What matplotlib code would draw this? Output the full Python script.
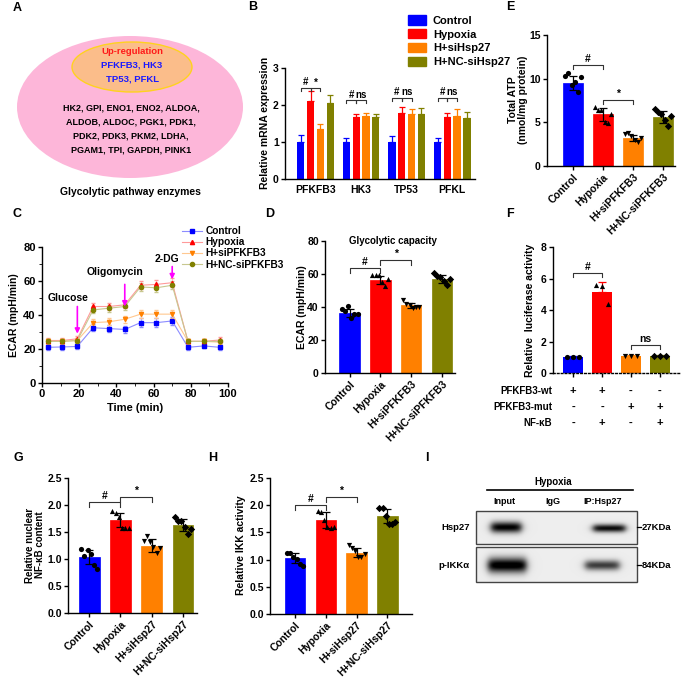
import numpy as np
import matplotlib
matplotlib.use("Agg")
import matplotlib.pyplot as plt
from matplotlib.patches import Ellipse, Rectangle, Patch
from matplotlib.lines import Line2D
from matplotlib.transforms import blended_transform_factory

plt.rcParams['font.family'] = ['Liberation Sans', 'DejaVu Sans']
plt.rcParams['font.weight'] = 'bold'
plt.rcParams['axes.labelweight'] = 'bold'
plt.rcParams['axes.linewidth'] = 1.0
plt.rcParams['xtick.major.width'] = 1.0
plt.rcParams['ytick.major.width'] = 1.0

# ---------------- data ----------------
COLORS = ['#0000ff', '#ff0000', '#ff8000', '#808000']
MARKERS = ['o', '^', 'v', 'D']

# A: gene lists
A_UP = ["PFKFB3, HK3", "TP53, PFKL"]
A_OTHER = ["HK2, GPI, ENO1, ENO2, ALDOA,",
           "ALDOB, ALDOC, PGK1, PDK1,",
           "PDK2, PDK3, PKM2, LDHA,",
           "PGAM1, TPI, GAPDH, PINK1"]

# B: relative mRNA expression
B_GENES = ["PFKFB3", "HK3", "TP53", "PFKL"]
B_GROUPS = ["Control", "Hypoxia", "H+siHsp27", "H+NC-siHsp27"]
B_MEAN = [[1.00, 2.12, 1.36, 2.05],
          [1.00, 1.67, 1.69, 1.67],
          [1.00, 1.78, 1.76, 1.76],
          [1.00, 1.68, 1.69, 1.65]]
B_ERR = [[0.18, 0.25, 0.13, 0.22],
         [0.10, 0.10, 0.10, 0.10],
         [0.15, 0.16, 0.13, 0.15],
         [0.10, 0.10, 0.20, 0.15]]
B_SIG = [(0, 0, 1, 2.46, "#"), (0, 1, 2, 2.46, "*"),
         (1, 0, 1, 2.13, "#"), (1, 1, 2, 2.13, "ns"),
         (2, 0, 1, 2.20, "#"), (2, 1, 2, 2.20, "ns"),
         (3, 0, 1, 2.20, "#"), (3, 1, 2, 2.20, "ns")]

# C: ECAR time course
C_GROUPS = ["Control", "Hypoxia", "H+siPFKFB3", "H+NC-siPFKFB3"]
C_TIME = [3, 11, 19, 27.5, 36, 44.5, 53, 61.5, 70, 78.5, 87, 95.5]
C_CONTROL = [21.0, 21.2, 21.5, 32.5, 32.0, 31.5, 35.5, 35.5, 36.5, 21.0, 21.8, 21.0]
C_HYPOXIA = [25.0, 25.0, 26.0, 45.0, 45.0, 46.0, 57.5, 58.0, 59.0, 24.5, 24.5, 25.3]
C_SIPFK = [24.5, 24.5, 25.0, 35.5, 36.0, 37.5, 40.5, 40.5, 40.5, 24.5, 24.5, 24.0]
C_NC = [24.5, 24.5, 25.0, 43.0, 44.0, 45.0, 56.5, 56.0, 57.5, 24.5, 24.5, 24.5]
C_ERR = [1.5, 1.5, 1.5, 2.0, 2.0, 2.0, 2.5, 2.5, 2.5, 1.5, 1.5, 1.5]
# (label, time, arrow start y, arrow end y, text x, text y)
C_ANNOT = [("Glucose", 19, 45, 29, 14, 50),
           ("Oligomycin", 44.5, 58, 45, 39.5, 65),
           ("2-DG", 70, 68.5, 61, 67, 73)]

# D: glycolytic capacity
D_LABELS = ["Control", "Hypoxia", "H+siPFKFB3", "H+NC-siPFKFB3"]
D_MEAN = [36.5, 56.5, 41.0, 57.0]
D_SD = [2.3, 2.5, 1.6, 2.3]
D_PTS = [[39.0, 37.5, 40.5, 33.5, 35.5, 36.0],
         [59.5, 59.5, 59.5, 55.0, 53.0, 57.0],
         [44.0, 42.0, 41.0, 39.5, 40.0, 40.0],
         [60.5, 59.0, 58.0, 56.0, 53.5, 57.0]]
D_SIG = [(0, 1, 63.5, "#"), (1, 2, 68.5, "*")]

# E: total ATP
E_MEAN = [9.5, 5.9, 3.2, 5.65]
E_SD = [0.75, 0.7, 0.35, 0.7]
E_PTS = [[10.3, 10.6, 9.3, 9.6, 8.5, 10.2],
         [6.7, 6.4, 6.4, 5.0, 4.9, 5.9],
         [3.7, 3.8, 3.4, 3.0, 2.8, 3.2],
         [6.5, 6.2, 5.9, 5.3, 4.6, 5.7]]
E_SIG = [(0, 1, 11.6, "#"), (1, 2, 7.6, "*")]

# F: luciferase
F_MEAN = [1.0, 5.15, 1.05, 1.1]
F_ERR = [0.05, 0.6, 0.08, 0.05]
F_PTS = [[1.0, 1.0, 1.0],
         [5.6, 5.5, 4.4],
         [1.1, 1.1, 1.05],
         [1.05, 1.1, 1.1]]
F_SIG = [(0, 1, 6.35, "#"), (2, 3, 1.8, "ns")]
F_ROWS = ["PFKFB3-wt", "PFKFB3-mut", "NF-\u03baB"]
F_SIGNS = [["+", "+", "-", "-"],
           ["-", "-", "+", "+"],
           ["-", "+", "-", "+"]]

# G: nuclear NF-kB ; H: IKK activity
GH_LABELS = ["Control", "Hypoxia", "H+siHsp27", "H+NC-siHsp27"]
G_MEAN = [1.03, 1.72, 1.25, 1.63]
G_SD = [0.13, 0.13, 0.12, 0.11]
G_PTS = [[1.18, 1.05, 1.17, 1.10, 0.88, 0.82],
         [1.88, 1.85, 1.78, 1.58, 1.58, 1.58],
         [1.33, 1.42, 1.32, 1.22, 1.12, 1.20],
         [1.78, 1.70, 1.70, 1.60, 1.47, 1.55]]
G_SIG = [(0, 1, 2.05, "#"), (1, 2, 2.15, "*")]
H_MEAN = [1.03, 1.73, 1.13, 1.80]
H_SD = [0.09, 0.14, 0.09, 0.13]
H_PTS = [[1.12, 1.12, 1.05, 1.02, 0.92, 0.88],
         [1.90, 1.88, 1.72, 1.60, 1.58, 1.60],
         [1.27, 1.22, 1.15, 1.05, 1.05, 1.10],
         [1.95, 1.95, 1.80, 1.65, 1.65, 1.70]]
H_SIG = [(0, 1, 2.00, "#"), (1, 2, 2.15, "*")]

# I: blot lanes
I_LANES = ["Input", "IgG", "IP:Hsp27"]
I_ROWS = ["Hsp27", "p-IKK\u03b1"]
I_SIZES = ["27KDa", "84KDa"]

# ---------------- layout helpers ----------------
W, H = 685, 686
fig = plt.figure(figsize=(6.85, 6.86), dpi=100)


def px_axes(l, t, r, b):
    return fig.add_axes([l / W, 1 - b / H, (r - l) / W, (b - t) / H])


def ftext(x, y, s, **kw):
    kw.setdefault('ha', 'center')
    kw.setdefault('va', 'center')
    fig.text(x / W, 1 - y / H, s, **kw)


def style(ax, fs=7.5):
    ax.spines['top'].set_visible(False)
    ax.spines['right'].set_visible(False)
    ax.tick_params(labelsize=fs, length=3, width=1, pad=1.5)


def bracket(ax, x1, x2, y, txt, h=None, fs=7.5):
    if h is None:
        h = 0.035 * (ax.get_ylim()[1] - ax.get_ylim()[0])
    ax.plot([x1, x1, x2, x2], [y - h, y, y, y - h], color='#333333', lw=0.8,
            clip_on=False)
    ax.text((x1 + x2) / 2, y + h * 0.2, txt, ha='center', va='bottom', fontsize=fs)


def dot_bar(ax, means, sds, pts, sigs, labels, ylim, yticks, spread=0.26):
    ax.set_ylim(*ylim)
    x = np.arange(len(means))
    ax.bar(x, means, width=0.66, color=COLORS, edgecolor=COLORS, lw=0.5, zorder=1)
    for i in range(len(means)):
        p = pts[i]
        off = np.linspace(-spread, spread, len(p))
        ax.scatter(x[i] + off, p, marker=MARKERS[i], s=14, color='black', zorder=3,
                   linewidths=0)
        ax.errorbar(x[i], means[i], yerr=sds[i], color='black', capsize=3, lw=0.9,
                    capthick=0.9, zorder=2)
    for a, b, y, t in sigs:
        bracket(ax, a, b, y, t)
    ax.set_yticks(yticks)
    ax.set_xticks(x)
    style(ax)
    if labels is not None:
        ax.set_xticklabels(labels, rotation=45, ha='right', rotation_mode='anchor',
                           fontsize=7.5)
    return x


# ---------------- A ----------------
axA = px_axes(0, 0, 260, 205)
axA.set_xlim(0, 260)
axA.set_ylim(205, 0)
axA.axis('off')
axA.add_patch(Ellipse((130, 107), 226, 142, facecolor='#fdb6d9', edgecolor='none'))
axA.add_patch(Ellipse((132, 67), 120, 50, facecolor='#fbbd8a', edgecolor='#ffd21f', lw=1))
axA.text(132, 51, "Up-regulation", color='#ff1a1a', ha='center', va='center', fontsize=6.8)
for k, s in enumerate(A_UP):
    axA.text(132, 65 + 14 * k, s, color='#1a1aff', ha='center', va='center', fontsize=6.8)
for k, s in enumerate(A_OTHER):
    axA.text(131, 108 + 14 * k, s, color='black', ha='center', va='center', fontsize=6.5)
axA.text(130, 192, "Glycolytic pathway enzymes", ha='center', va='center', fontsize=7.5)

# ---------------- B ----------------
axB = px_axes(285, 68, 475, 179)
axB.set_ylim(0, 3)
gx = np.arange(len(B_GENES))
offs = (np.arange(4) - 1.5) * 0.215
for j in range(4):
    m = [B_MEAN[g][j] for g in range(4)]
    e = [B_ERR[g][j] for g in range(4)]
    axB.bar(gx + offs[j], m, width=0.16, color=COLORS[j], label=B_GROUPS[j])
    axB.errorbar(gx + offs[j], m, yerr=[np.zeros(4), e], fmt='none', ecolor=COLORS[j],
                 capsize=2.2, lw=0.9, capthick=0.9)
for g, a, b, y, t in B_SIG:
    bracket(axB, g + offs[a], g + offs[b], y, t, h=0.08, fs=7)
axB.set_xlim(-0.67, 3.5)
axB.set_yticks([0, 1, 2, 3])
axB.set_xticks(gx)
axB.set_xticklabels(B_GENES, fontsize=7.5)
style(axB)
axB.tick_params(axis='x', length=0, pad=4)
ftext(265, 123, "Relative mRNA expression", rotation=90, fontsize=7.5)
fig.legend(handles=[Patch(color=c) for c in COLORS], labels=B_GROUPS,
           loc='upper left', bbox_to_anchor=(404 / W, 1 - 11 / H), frameon=False,
           fontsize=8, handlelength=1.6, handleheight=0.9, labelspacing=0.3,
           handletextpad=0.6, borderaxespad=0)

# ---------------- C ----------------
axC = px_axes(42, 247, 228, 383)
c_series = [C_CONTROL, C_HYPOXIA, C_SIPFK, C_NC]
c_lines = ['#8c8cff', '#ff9a9a', '#ffc890', '#c8c890']
c_mk = ['s', '^', 'v', 'o']
for k, ys in enumerate(c_series):
    axC.errorbar(C_TIME, ys, yerr=C_ERR, color=c_lines[k], lw=0.8, capsize=1.5,
                 elinewidth=0.5, marker=c_mk[k], ms=3, mfc=COLORS[k], mec=COLORS[k])
axC.set_xlim(0, 100)
axC.set_ylim(0, 80)
axC.set_xticks([0, 20, 40, 60, 80, 100])
axC.set_yticks([0, 20, 40, 60, 80])
axC.set_xticks(np.arange(10, 100, 20), minor=True)
axC.set_yticks(np.arange(10, 80, 20), minor=True)
style(axC, fs=8)
axC.tick_params(which='minor', length=2)
for txt, t, y0, y1, tx, ty in C_ANNOT:
    axC.annotate("", xy=(t, y1), xytext=(t, y0),
                 arrowprops=dict(arrowstyle='-|>', color='#ff00ff', lw=1.2,
                                 mutation_scale=7, shrinkA=0, shrinkB=0))
    axC.text(tx, ty, txt, ha='center', va='center', fontsize=7.5)
ftext(135, 408, "Time (min)", fontsize=8)
ftext(14, 315, "ECAR (mpH/min)", rotation=90, fontsize=7.5)
c_handles = [Line2D([], [], color=c_lines[k], lw=0.8, marker=c_mk[k], ms=3,
                    mfc=COLORS[k], mec=COLORS[k]) for k in range(4)]
axC.legend(c_handles, C_GROUPS, loc='upper left',
           bbox_to_anchor=(136 / 186, 1 + 25 / 136), frameon=False,
           fontsize=7.3, handlelength=2.0, labelspacing=0.12, handletextpad=0.3,
           borderaxespad=0)

# ---------------- D ----------------
axD = px_axes(325, 241, 455, 373)
dot_bar(axD, D_MEAN, D_SD, D_PTS, D_SIG, D_LABELS, (0, 80), [0, 20, 40, 60, 80])
axD.set_xlim(-0.8, 3.42)
ftext(393, 241, "Glycolytic capacity", fontsize=7)
ftext(302, 307, "ECAR (mpH/min)", rotation=90, fontsize=7.5)

# ---------------- E ----------------
axE = px_axes(547, 35, 675, 166)
dot_bar(axE, E_MEAN, E_SD, E_PTS, E_SIG, D_LABELS, (0, 15), [0, 5, 10, 15])
axE.set_xlim(-0.87, 3.4)
ftext(518, 100, "Total ATP\n(nmol/mg protein)", rotation=90, fontsize=7.5,
      linespacing=1.05)

# ---------------- F ----------------
axF = px_axes(553, 247, 680, 373)
axF.set_ylim(0, 8)
fx = np.arange(4)
axF.bar(fx, F_MEAN, width=0.68, color=COLORS)
for i in range(4):
    axF.errorbar(fx[i], F_MEAN[i], yerr=[[0], [F_ERR[i]]], fmt='none',
                 ecolor=COLORS[i], capsize=3, lw=0.9, capthick=0.9)
    off = np.linspace(-0.22, 0.22, len(F_PTS[i]))
    axF.scatter(fx[i] + off, F_PTS[i], marker=MARKERS[i], s=14, color='black',
                zorder=3, linewidths=0)
for a, b, y, t in F_SIG:
    bracket(axF, a, b, y, t)
axF.set_xlim(-0.69, 3.69)
axF.set_yticks([0, 2, 4, 6, 8])
axF.set_xticks(fx)
axF.set_xticklabels([])
style(axF)
axF.spines['bottom'].set_linestyle((0, (1.2, 1.6)))
tr = blended_transform_factory(axF.transData, fig.transFigure)
row_y = [391, 407, 423]
for r, lab in enumerate(F_ROWS):
    ftext(552, row_y[r], lab, ha='right', fontsize=7)
    for i in range(4):
        axF.text(fx[i], 1 - row_y[r] / H, F_SIGNS[r][i], transform=tr, ha='center',
                 va='center', fontsize=8)
ftext(530, 310, "Relative  luciferase activity", rotation=90, fontsize=7.5)

# ---------------- G ----------------
axG = px_axes(68, 478, 197, 613)
dot_bar(axG, G_MEAN, G_SD, G_PTS, G_SIG, GH_LABELS, (0, 2.5),
        [0, 0.5, 1.0, 1.5, 2.0, 2.5])
axG.set_xlim(-0.68, 3.45)
axG.yaxis.set_major_formatter(matplotlib.ticker.FormatStrFormatter('%.1f'))
ftext(35, 545, "Relative nuclear\nNF-\u03baB content", rotation=90, fontsize=7,
      linespacing=1.1)

# ---------------- H ----------------
axH = px_axes(270, 478, 412, 614)
dot_bar(axH, H_MEAN, H_SD, H_PTS, H_SIG, GH_LABELS, (0, 2.5),
        [0, 0.5, 1.0, 1.5, 2.0, 2.5])
axH.set_xlim(-0.81, 3.8)
axH.yaxis.set_major_formatter(matplotlib.ticker.FormatStrFormatter('%.1f'))
ftext(241, 545, "Relative IKK activity", rotation=90, fontsize=7.5)

# ---------------- I ----------------
axI = px_axes(420, 450, 685, 686)


def blot(x0, x1, y0, y1, bands):
    xs = np.arange(x0, x1, 0.5)
    ys = np.arange(y0, y1, 0.5)
    X, Y = np.meshgrid(xs, ys)
    img = np.full(X.shape, 0.93)
    for cx, cy, hw, hh, k in bands:
        fxb = 1 / (1 + np.exp((np.abs(X - cx) - hw) / 2.0))
        fyb = np.exp(-((Y - cy) / hh) ** 2)
        img -= k * fxb * fyb
    img = np.clip(img, 0, 1)
    axI.imshow(img, cmap='gray', vmin=0, vmax=1, extent=(x0, x1, y1, y0),
               aspect='auto', interpolation='bilinear')
    axI.add_patch(Rectangle((x0, y0), x1 - x0, y1 - y0, fill=False,
                            edgecolor='#444444', lw=1))


blot(476, 637, 511, 544, [(506, 527, 15, 5.5, 0.95), (609, 528, 16, 4.0, 0.9)])
blot(476, 637, 547, 582, [(507, 565, 19, 7.5, 1.0), (602, 565, 17, 5.0, 0.7)])
axI.set_xlim(420, 685)
axI.set_ylim(686, 450)
axI.axis('off')
axI.text(553, 482, "Hypoxia", ha='center', va='center', fontsize=7)
axI.plot([487, 633], [490, 490], color='black', lw=1.2)
for xl, lab in zip([504, 553, 603], I_LANES):
    axI.text(xl, 501, lab, ha='center', va='center', fontsize=6.5)
for yl, lab, sz in zip([527, 565], I_ROWS, I_SIZES):
    axI.text(470, yl, lab, ha='right', va='center', fontsize=6.8)
    axI.plot([637, 641], [yl, yl], color='black', lw=0.9)
    axI.text(642, yl, sz, ha='left', va='center', fontsize=6.8)

# ---------------- panel letters ----------------
for lab, x, y in [("A", 17, 8), ("B", 253, 7), ("E", 510, 7), ("C", 17, 214),
                  ("D", 270, 214), ("F", 510, 214), ("G", 18, 458),
                  ("H", 213, 458), ("I", 427, 458)]:
    ftext(x, y, lab, fontsize=9)

fig.savefig("out.png", dpi=100)
